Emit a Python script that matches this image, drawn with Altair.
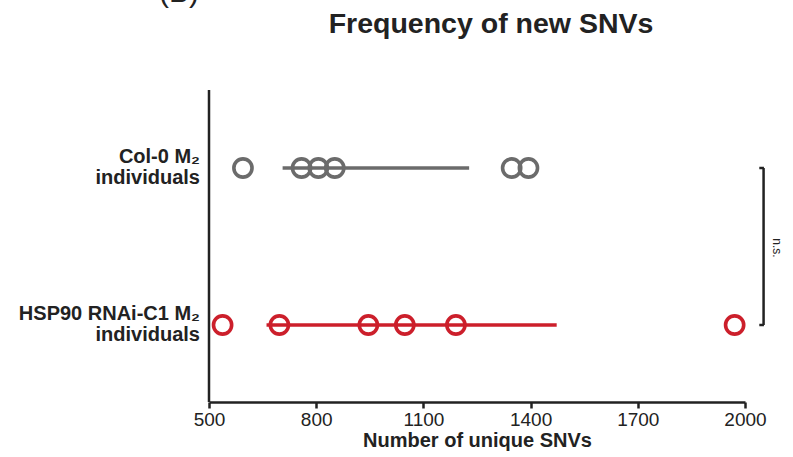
import altair as alt
import pandas as pd

groups = ["Col-0", "HSP90"]
labels = ["Col-0 M₂\nindividuals", "HSP90 RNAi-C1 M₂\nindividuals"]
col0_values = [595, 759, 806, 852, 1347, 1394]
hsp90_values = [538, 697, 946, 1048, 1191, 1971]
line_lo = [706, 661]
line_hi = [1228, 1473]
colors = ["#6b6b6b", "#cc1f2b"]
x_ticks = [500, 800, 1100, 1400, 1700, 2000]

pts = pd.DataFrame({
    "group": ["Col-0"] * len(col0_values) + ["HSP90"] * len(hsp90_values),
    "value": col0_values + hsp90_values,
})
lines = pd.DataFrame({"group": groups, "lo": line_lo, "hi": line_hi})
labs = pd.DataFrame({"group": groups, "label": labels})

font = "Liberation Sans"
W, H = 536, 312
yscale = alt.Scale(domain=groups, range=[-0.5, 313.5], paddingInner=0, paddingOuter=0)
xscale = alt.Scale(domain=[500, 2000], nice=False, zero=False)
color = alt.Color("group:N", scale=alt.Scale(domain=groups, range=colors), legend=None)

xaxis = alt.Axis(values=x_ticks, grid=False, title="Number of unique SNVs",
                 titleFont=font, titleFontSize=20, titleFontWeight="bold", titleColor="#222",
                 labelFont=font, labelFontSize=19, labelColor="#222", labelPadding=2,
                 tickSize=6, tickWidth=2.5, tickColor="#222", domainWidth=2.5, domainColor="#222",
                 titlePadding=1, format="d", labelFlush=False)

base_lines = alt.Chart(lines).mark_rule(strokeWidth=3.5).encode(
    x=alt.X("lo:Q", scale=xscale, axis=xaxis),
    x2="hi:Q",
    y=alt.Y("group:N", scale=yscale, axis=None),
    color=color,
)

yline = alt.Chart(pd.DataFrame({"t": [0]})).mark_rule(strokeWidth=2.5, color="#222").encode(
    x=alt.value(0), y=alt.value(0), y2=alt.value(H))

points = alt.Chart(pts).mark_point(shape="circle", filled=False, size=330, strokeWidth=3.6, opacity=1).encode(
    x=alt.X("value:Q", scale=xscale),
    y=alt.Y("group:N", scale=yscale),
    color=color,
)

row_labels = alt.Chart(labs).mark_text(align="right", baseline="middle", lineBreak="\n",
                                       font=font, fontSize=20, fontWeight="bold", lineHeight=21,
                                       color="#222", dy=-11).encode(
    x=alt.value(-9),
    y=alt.Y("group:N", scale=yscale),
    text="label:N",
)

bracket_df = pd.DataFrame({"x": [2052], "g1": ["Col-0"], "g2": ["HSP90"]})
bracket_v = alt.Chart(bracket_df).mark_rule(strokeWidth=2.5, color="#222").encode(
    x=alt.X("x:Q", scale=xscale),
    y=alt.Y("g1:N", scale=yscale),
    y2="g2:N",
)
bracket_t = alt.Chart(pd.DataFrame({"x": [2040, 2040], "x2": [2053, 2053], "group": groups})).mark_rule(
    strokeWidth=2.5, color="#222").encode(
    x=alt.X("x:Q", scale=xscale),
    x2="x2:Q",
    y=alt.Y("group:N", scale=yscale),
)
ns = alt.Chart(pd.DataFrame({"x": [2089], "t": ["n.s."]})).mark_text(
    angle=90, align="center", baseline="middle", font=font, fontSize=12, color="#222").encode(
    x=alt.X("x:Q", scale=xscale),
    y=alt.value(158),
    text="t:N",
)
panel = alt.Chart(pd.DataFrame({"t": ["(B)"]})).mark_text(
    align="center", baseline="alphabetic", font=font, fontSize=30, color="#222").encode(
    x=alt.value(-30), y=alt.value(-88), text="t:N")

title = alt.Chart(pd.DataFrame({"t": ["Frequency of new SNVs"]})).mark_text(
    align="center", baseline="alphabetic", font=font, fontSize=28.5, fontWeight="bold", color="#222").encode(
    x=alt.value(282), y=alt.value(-57), text="t:N")

chart = alt.layer(yline, base_lines, points, row_labels, bracket_v, bracket_t, ns, panel, title).properties(
    width=W, height=H,
    autosize=alt.AutoSizeParams(type="none"),
    padding={"left": 209, "top": 90, "right": 793 - 209 - W, "bottom": 457 - 90 - H},
).configure(background="white").configure_view(stroke=None)

chart.save("out.html", embed_options={"renderer": "svg", "actions": False})
